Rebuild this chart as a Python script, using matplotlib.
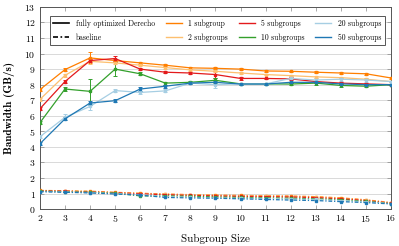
import matplotlib
matplotlib.use("Agg")
import matplotlib.pyplot as plt
from matplotlib.lines import Line2D
import numpy as np

plt.rcParams['font.family'] = ['cmr10', 'DejaVu Serif']
plt.rcParams['axes.formatter.use_mathtext'] = True
plt.rcParams['mathtext.fontset'] = 'cm'

sizes = [2, 3, 4, 5, 6, 7, 8, 9, 10, 11, 12, 13, 14, 15, 16]
labels = ["1 subgroup", "2 subgroups", "5 subgroups", "10 subgroups", "20 subgroups", "50 subgroups"]
colors = ["#ff7f00", "#fdbf6f", "#e31a1c", "#33a02c", "#a6cee3", "#1f78b4"]

opt_1 = [7.68, 8.97, 9.72, 9.55, 9.4, 9.25, 9.08, 9.05, 9.0, 8.88, 8.86, 8.8, 8.75, 8.7, 8.43]
opt_2 = [7.05, 8.6, 9.5, 9.4, 9.25, 9.1, 8.95, 8.86, 8.75, 8.65, 8.58, 8.5, 8.45, 8.35, 8.2]
opt_5 = [6.45, 8.2, 9.55, 9.68, 9.0, 8.8, 8.75, 8.65, 8.4, 8.4, 8.37, 8.2, 8.1, 8.05, 8.0]
opt_10 = [5.55, 7.72, 7.57, 9.0, 8.7, 8.1, 8.15, 8.28, 8.05, 8.05, 8.04, 8.1, 7.95, 7.9, 8.0]
opt_20 = [4.65, 5.9, 6.6, 7.62, 7.5, 7.6, 8.1, 8.0, 8.05, 8.05, 8.4, 8.3, 8.35, 8.3, 8.2]
opt_50 = [4.2, 5.8, 6.82, 6.97, 7.72, 7.9, 8.1, 8.15, 8.04, 8.04, 8.15, 8.15, 8.05, 8.0, 8.0]

err_1 = [0.1, 0.12, 0.35, 0.1, 0.08, 0.08, 0.06, 0.06, 0.05, 0.05, 0.05, 0.05, 0.05, 0.05, 0.05]
err_2 = [0.1, 0.1, 0.15, 0.1, 0.08, 0.08, 0.06, 0.06, 0.05, 0.05, 0.05, 0.05, 0.05, 0.05, 0.05]
err_5 = [0.1, 0.1, 0.1, 0.15, 0.08, 0.08, 0.06, 0.2, 0.1, 0.05, 0.1, 0.05, 0.05, 0.05, 0.05]
err_10 = [0.1, 0.15, 0.8, 0.45, 0.1, 0.1, 0.08, 0.15, 0.08, 0.05, 0.08, 0.1, 0.08, 0.05, 0.05]
err_20 = [0.1, 0.2, 0.25, 0.1, 0.1, 0.1, 0.08, 0.2, 0.08, 0.05, 0.15, 0.15, 0.1, 0.1, 0.05]
err_50 = [0.1, 0.1, 0.1, 0.08, 0.1, 0.1, 0.08, 0.08, 0.05, 0.05, 0.05, 0.05, 0.05, 0.05, 0.05]

base_1 = [1.2, 1.18, 1.15, 1.08, 1.02, 0.97, 0.93, 0.9, 0.88, 0.86, 0.84, 0.8, 0.72, 0.6, 0.42]
base_2 = [1.18, 1.16, 1.12, 1.05, 1.0, 0.95, 0.9, 0.87, 0.85, 0.83, 0.8, 0.76, 0.68, 0.56, 0.4]
base_5 = [1.17, 1.15, 1.1, 1.05, 0.98, 0.93, 0.88, 0.85, 0.82, 0.8, 0.78, 0.74, 0.66, 0.55, 0.38]
base_10 = [1.15, 1.12, 1.08, 1.03, 0.85, 0.85, 0.82, 0.78, 0.75, 0.72, 0.7, 0.66, 0.6, 0.5, 0.36]
base_20 = [1.13, 1.1, 1.06, 1.0, 0.93, 0.8, 0.76, 0.72, 0.7, 0.68, 0.65, 0.62, 0.55, 0.47, 0.35]
base_50 = [1.12, 1.08, 1.04, 0.97, 0.9, 0.75, 0.72, 0.7, 0.66, 0.62, 0.58, 0.55, 0.48, 0.42, 0.33]

opt = [opt_1, opt_2, opt_5, opt_10, opt_20, opt_50]
errs = [err_1, err_2, err_5, err_10, err_20, err_50]
base = [base_1, base_2, base_5, base_10, base_20, base_50]

fig = plt.figure(figsize=(3.99, 2.46), dpi=100)
ax = fig.add_axes([0.100, 0.150, 0.880, 0.822])

for o, e, b, c in zip(opt, errs, base, colors):
    ax.errorbar(sizes, o, yerr=e, color=c, lw=0.9, marker='s', ms=1.8,
                elinewidth=0.7, capsize=1.5, capthick=0.7, zorder=3)
    ax.plot(sizes, b, color=c, lw=0.9, ls=(0, (3, 1.5, 1, 1.5)), marker='s', ms=1.5, zorder=3)

ax.set_xlim(2, 16)
ax.set_ylim(0, 13)
ax.set_xticks(range(2, 17))
ax.set_yticks(range(0, 14))
ax.yaxis.grid(True, color='#d9d9d9', lw=0.7, zorder=0)
ax.set_axisbelow(True)
ax.tick_params(direction='in', length=3, width=0.5, color='#888888', labelsize=7,
               top=True, right=True, pad=3)
for s in ax.spines.values():
    s.set_color('#555555')
    s.set_linewidth(0.7)

ax.set_xlabel("Subgroup Size", fontsize=8, labelpad=7)
ax.set_ylabel("Bandwidth (GB/s)", fontsize=8, family=['cmb10', 'DejaVu Serif'], labelpad=7)

handles = [Line2D([], [], color='black', lw=1.2),
           Line2D([], [], color='black', lw=1.2, ls=(0, (3, 1.5, 1, 1.5)))]
hl = ["fully optimized Derecho", "baseline"]
for l, c in zip(labels, colors):
    handles.append(Line2D([], [], color=c, lw=1.0))
    hl.append(l)
leg = ax.legend(handles, hl, ncol=4, loc='upper right', bbox_to_anchor=(0.993, 0.975),
                fontsize=5.5, frameon=True, fancybox=False, framealpha=1,
                edgecolor='#555555', handlelength=2.1, columnspacing=1.4,
                handletextpad=0.85, borderpad=0.45, labelspacing=0.75)
leg.get_frame().set_linewidth(0.7)

fig.savefig("out.png", dpi=100)
